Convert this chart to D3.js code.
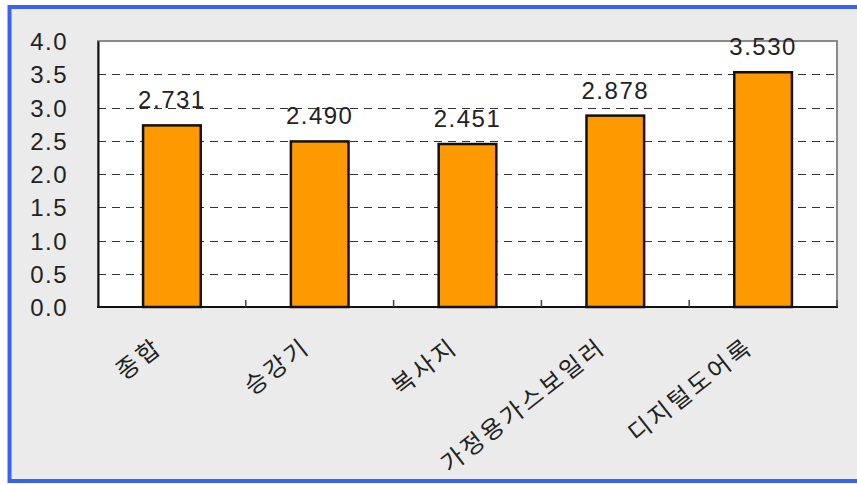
<!DOCTYPE html>
<html>
<head>
<meta charset="utf-8">
<script src="https://cdn.jsdelivr.net/npm/d3@7"></script>
<style>
  body { margin: 0; background: #fff; }
  svg text { font-family: "Noto Sans CJK KR", "Liberation Sans", sans-serif; fill: #222; }
</style>
</head>
<body>
<div id="chart"></div>
<script>
var categories = ["종합", "승강기", "복사지", "가정용가스보일러", "디지털도어록"];
var values = [2.731, 2.490, 2.451, 2.878, 3.530];
var yTicks = [0, 0.5, 1, 1.5, 2, 2.5, 3, 3.5, 4];

function init() {
    var w = 857;
    var h = 484;
    var left = 98, right = 837, top = 41, bottom = 307;

    var svg = d3.select("#chart")
        .append("svg")
        .attr("width", w)
        .attr("height", h);

    // gray panel with blue frame
    svg.append("rect")
        .attr("x", 9.5).attr("y", 7)
        .attr("width", 900).attr("height", 474)
        .attr("fill", "#ebebeb")
        .attr("stroke", "#3a62f2")
        .attr("stroke-width", 4);

    var xScale = d3.scaleBand()
        .domain(categories)
        .range([left, right]);

    var yScale = d3.scaleLinear()
        .domain([0, 4])
        .range([bottom, top]);

    // plot area
    svg.append("rect")
        .attr("x", left).attr("y", top)
        .attr("width", right - left).attr("height", bottom - top)
        .attr("fill", "#fff")
        .attr("stroke", "#8a8a8a")
        .attr("stroke-width", 2);

    // dashed grid lines
    svg.append("g")
        .selectAll("line")
        .data(yTicks.filter(function(d) { return d > 0 && d < 4; }))
        .enter()
        .append("line")
        .attr("x1", left)
        .attr("x2", right)
        .attr("y1", function(d) { return Math.round(yScale(d)) + 0.5; })
        .attr("y2", function(d) { return Math.round(yScale(d)) + 0.5; })
        .attr("stroke", "#333")
        .attr("stroke-width", 1)
        .attr("stroke-dasharray", "8,6");

    // y axis
    var yAxis = d3.axisLeft(yScale)
        .tickValues(yTicks)
        .tickSize(0)
        .tickPadding(30)
        .tickFormat(d3.format(".1f"));

    var gy = svg.append("g")
        .attr("transform", "translate(" + left + ",0)")
        .call(yAxis);
    gy.select(".domain").attr("stroke", "#111").attr("stroke-width", 2);
    gy.selectAll("text")
        .attr("font-size", 24)
        .attr("letter-spacing", 1.5)
        .attr("dy", "0.36em")
        .style("font-family", "'Liberation Sans', sans-serif");

    // bottom axis line and category ticks
    svg.append("line")
        .attr("x1", left - 1).attr("x2", right + 1)
        .attr("y1", bottom).attr("y2", bottom)
        .attr("stroke", "#111").attr("stroke-width", 2);

    svg.append("g")
        .selectAll("line")
        .data(categories.slice(1).concat(["end"]))
        .enter()
        .append("line")
        .attr("x1", function(d, i) { return left + xScale.step() * (i + 1); })
        .attr("x2", function(d, i) { return left + xScale.step() * (i + 1); })
        .attr("y1", bottom)
        .attr("y2", bottom - 7)
        .attr("stroke", "#444")
        .attr("stroke-width", 1.5);

    // bars
    var barW = xScale.bandwidth() * 0.39;
    svg.append("g")
        .selectAll("rect")
        .data(values)
        .enter()
        .append("rect")
        .attr("x", function(d, i) { return xScale(categories[i]) + (xScale.bandwidth() - barW) / 2; })
        .attr("y", function(d) { return yScale(d); })
        .attr("width", barW)
        .attr("height", function(d) { return bottom - yScale(d); })
        .attr("fill", "#ff9900")
        .attr("stroke", "#111")
        .attr("stroke-width", 2.5);

    // value labels
    svg.append("g")
        .selectAll("text")
        .data(values)
        .enter()
        .append("text")
        .attr("x", function(d, i) { return xScale(categories[i]) + xScale.bandwidth() / 2; })
        .attr("y", function(d) { return yScale(d) - 17; })
        .attr("text-anchor", "middle")
        .attr("font-size", 24)
        .attr("letter-spacing", 1.5)
        .style("font-family", "'Liberation Sans', sans-serif")
        .text(function(d) { return d3.format(".3f")(d); });

    // category labels
    svg.append("g")
        .selectAll("text")
        .data(categories)
        .enter()
        .append("text")
        .attr("transform", function(d) {
            return "translate(" + (xScale(d) + xScale.bandwidth() / 2 - 8) + ",350) rotate(-38)";
        })
        .attr("text-anchor", "end")
        .attr("font-size", 24)
        .attr("letter-spacing", 3)
        .text(function(d) { return d; });
}

window.onload = init;
</script>
</body>
</html>
